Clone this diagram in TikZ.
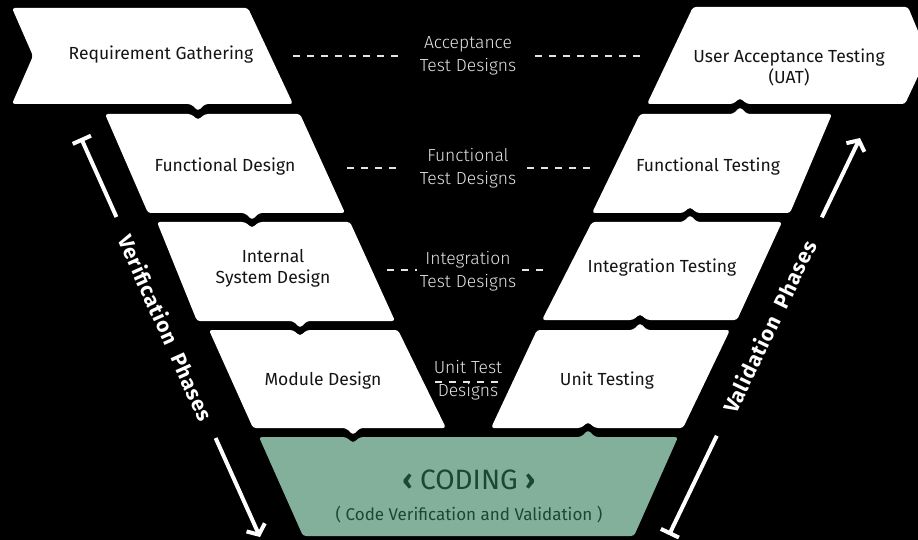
\documentclass[tikz,border=0pt]{standalone}
\usepackage{fontspec}
\setmainfont{Fira Sans}
\newfontfamily\lightfont{Fira Sans Light}
\usetikzlibrary{arrows.meta,calc}

\definecolor{codefill}{RGB}{130,176,154}
\definecolor{codetext}{RGB}{26,72,48}
\definecolor{boxtext}{RGB}{20,20,20}
\definecolor{guidegray}{RGB}{228,228,228}

\begin{document}
\begin{tikzpicture}[x=1pt,y=-1pt,
    box/.style={fill=white,rounded corners=3pt},
    steplabel/.style={text=boxtext,font=\fontsize{17.5}{21}\selectfont,align=center},
    designlabel/.style={text=guidegray,font=\lightfont\fontsize{17.5}{23}\selectfont,align=center},
    guide/.style={guidegray,line width=1.1pt,dash pattern=on 7pt off 7pt},
    phase/.style={white,line width=4pt},
    phaselabel/.style={white,font=\bfseries\fontsize{21}{24}\selectfont\addfontfeatures{LetterSpace=4}}]
  \fill[black] (0,0) rectangle (918,540);
  \useasboundingbox (0,0) rectangle (918,540);
  \clip (0,0) rectangle (918,540);

  % left leg, top to bottom
  \fill[box] (12,8) -- (248,8) -- (293,104) -- (205,104) -- (198,111) -- (191,104)
    -- (12,104) -- (33,56) -- cycle;
  \fill[box] (105,114) -- (191,114) -- (198,120) -- (205,114) -- (300,114) -- (345,213)
    -- (259,213) -- (252,220) -- (245,213) -- (148,213) -- cycle;
  \fill[box] (157,222) -- (245,222) -- (252,228) -- (259,222) -- (350,222) -- (395,321)
    -- (307,321) -- (300,328) -- (293,321) -- (197,321) -- cycle;
  \fill[box] (209,330) -- (293,330) -- (300,336) -- (307,330) -- (398,330) -- (446,428)
    -- (360,428) -- (353,435) -- (346,428) -- (253,428) -- cycle;

  % coding at the bottom
  \fill[codefill,rounded corners=3pt] (259,437) -- (346,437) -- (353,443) -- (360,437)
    -- (581,437) -- (588,430) -- (595,437) -- (678,437) -- (634,536) -- (303,536) -- cycle;

  % right leg, bottom to top
  \fill[box] (537,330) -- (633,330) -- (640,323) -- (647,330) -- (730,330) -- (683,428)
    -- (595,428) -- (588,422) -- (581,428) -- (491,428) -- cycle;
  \fill[box] (592,222) -- (683,222) -- (690,215) -- (697,222) -- (782,222) -- (737,320)
    -- (647,320) -- (640,314) -- (633,320) -- (542,320) -- cycle;
  \fill[box] (640,114) -- (733,114) -- (740,107) -- (747,114) -- (832,114) -- (790,213)
    -- (697,213) -- (690,207) -- (683,213) -- (592,213) -- cycle;
  \fill[box] (693,7) -- (908,7) -- (928,55) -- (905,104) -- (747,104) -- (740,98)
    -- (733,104) -- (647,104) -- cycle;

  % box texts
  \node[steplabel] (req) at (161,55) {Requirement Gathering};
  \node[steplabel] (fdes) at (225,167) {Functional Design};
  \node[steplabel] (sdes) at (273,268) {Internal\\System Design};
  \node[steplabel] (mdes) at (323,381) {Module Design};
  \node[steplabel] (uat) at (789,67) {User Acceptance Testing\\(UAT)};
  \node[steplabel] (ftest) at (708,167) {Functional Testing};
  \node[steplabel] (itest) at (662,268) {Integration Testing};
  \node[steplabel] (utest) at (607,381) {Unit Testing};
  \node[text=codetext,font=\fontsize{28}{30}\selectfont] (code) at (469,480)
    {{\bfseries‹} CODING {\bfseries›}};
  \node[text=codetext,font=\fontsize{17}{20}\selectfont] (codesub) at (469,515)
    {( Code Verification and Validation )};

  % test designs between the legs
  \node[designlabel] (acc) at (468,56) {Acceptance\\Test Designs};
  \node[designlabel] (fun) at (468,168) {Functional\\Test Designs};
  \node[designlabel] (int) at (468,271) {Integration\\Test Designs};
  \node[designlabel] (unit) at (468,380) {Unit Test\\Designs};
  \coordinate (acc-a) at (293,56);  \coordinate (acc-b) at (405,56);
  \coordinate (acc-c) at (535,56);  \coordinate (acc-d) at (645,56);
  \coordinate (fun-a) at (347,168); \coordinate (fun-b) at (403,168);
  \coordinate (fun-c) at (527,168); \coordinate (fun-d) at (592,168);
  \coordinate (int-a) at (387,270); \coordinate (int-b) at (417,270);
  \coordinate (int-c) at (522,270); \coordinate (int-d) at (550,270);
  \coordinate (unit-a) at (435,382); \coordinate (unit-b) at (503,382);
  \draw[guide] (acc-a) -- (acc-b) (acc-c) -- (acc-d);
  \draw[guide] (fun-a) -- (fun-b) (fun-c) -- (fun-d);
  \draw[guide] (int-a) -- (int-b) (int-c) -- (int-d);
  \draw[guide] (unit-a) -- (unit-b);

  % phase arrows
  \coordinate (ver-a) at (81,138);
  \coordinate (ver-b) at (260,537);
  \node[phaselabel,rotate=-65.84] (ver) at ($(ver-a)!0.475!(ver-b)$) {Verification\ \ Phases};
  \draw[phase,{Bar[width=20pt]}-] (ver-a) -- ($(ver-a)!0.198!(ver-b)$);
  \draw[phase,-{Straight Barb[length=8pt,width=20pt]}] ($(ver-a)!0.752!(ver-b)$) -- (ver-b);

  \coordinate (val-a) at (669,535);
  \coordinate (val-b) at (860,138);
  \node[phaselabel,rotate=64.3] (val) at ($(val-a)!0.525!(val-b)$) {Validation\ \ Phases};
  \draw[phase,{Bar[width=20pt]}-] (val-a) -- ($(val-a)!0.25!(val-b)$);
  \draw[phase,-{Straight Barb[length=8pt,width=20pt]}] ($(val-a)!0.8!(val-b)$) -- (val-b);
\end{tikzpicture}
\end{document}
